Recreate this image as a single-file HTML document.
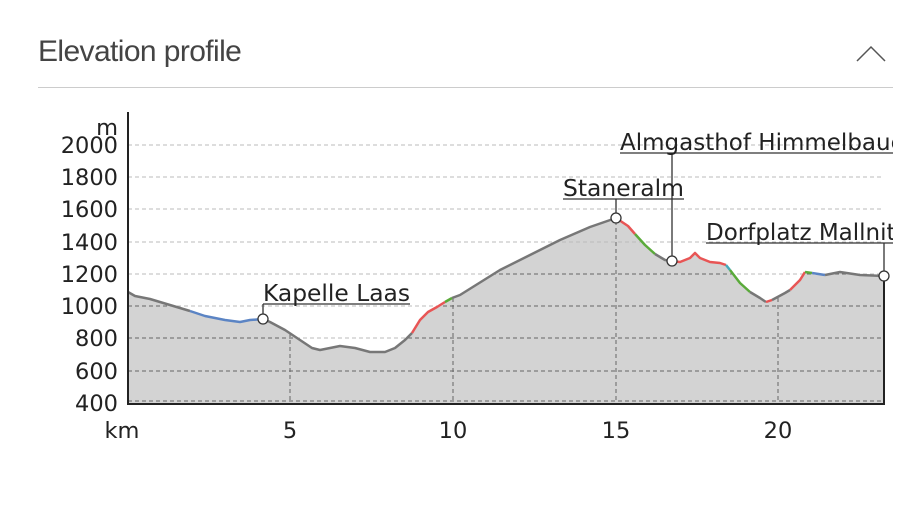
<!DOCTYPE html>
<html><head><meta charset="utf-8"><style>
body{margin:0;background:#fff;width:910px;height:526px;overflow:hidden;font-family:"Liberation Sans",sans-serif}
.t{position:absolute;left:38px;top:35px;font-size:30px;font-weight:300;color:#444;letter-spacing:-0.6px}
.hr{position:absolute;left:38px;top:87px;width:855px;height:1px;background:#ccc}
</style></head><body>
<div class="t">Elevation profile</div>
<div class="hr"></div>
<svg style="position:absolute;left:0;top:0" width="910" height="526">
<polyline points="857,61 871,47 885,61" fill="none" stroke="#555" stroke-width="1.5"/>
<defs>
<clipPath id="c"><path id="fp" d="M128,292 L135,296 L150,299 L170,305 L190,311 L205,316 L225,320 L240,322 L250,320 L263,319 L270,322 L285,330 L300,340 L312,348 L320,350 L330,348 L340,346 L355,348 L370,352 L385,352 L395,348 L405,340 L412,333 L420,320 L428,312 L437,307 L445,302 L452,298 L460,295 L500,270 L530,255 L560,240 L590,227 L616,218 L628,226 L635,234 L645,245 L655,254 L665,260 L672,261 L680,262 L690,258 L695,253 L700,258 L710,262 L720,263 L726,265 L730,270 L740,283 L750,292 L760,298 L768,302 L775,298 L785,293 L792,289 L800,280 L805,272 L815,275 L825,275 L840,272 L860,275 L884,276 L884,403 L128,403 Z"/></clipPath>
<clipPath id="tc"><rect x="0" y="0" width="893" height="526"/></clipPath>
</defs>
<use href="#fp" fill="#d3d3d3"/>
<g stroke="#bbb" stroke-dasharray="4,3" stroke-width="1">
<line x1="128" y1="145" x2="884" y2="145"/><line x1="128" y1="177" x2="884" y2="177"/><line x1="128" y1="209" x2="884" y2="209"/><line x1="128" y1="242" x2="884" y2="242"/><line x1="128" y1="274" x2="884" y2="274"/><line x1="128" y1="306" x2="884" y2="306"/><line x1="128" y1="338" x2="884" y2="338"/><line x1="128" y1="371" x2="884" y2="371"/>
</g>
<g stroke="#666" stroke-dasharray="4,3" stroke-width="1" clip-path="url(#c)">
<line x1="128" y1="274" x2="884" y2="274"/><line x1="128" y1="306" x2="884" y2="306"/><line x1="128" y1="338" x2="884" y2="338"/><line x1="128" y1="371" x2="884" y2="371"/><line x1="128" y1="401" x2="884" y2="401"/>
<line x1="290" y1="200" x2="290" y2="403"/><line x1="453" y1="200" x2="453" y2="403"/><line x1="616" y1="200" x2="616" y2="403"/><line x1="778" y1="200" x2="778" y2="403"/>
</g>
<g fill="none" stroke-width="2.5" stroke-linejoin="round">
<polyline stroke="#777" points="128,292 135,296 150,299 170,305 190,311"/>
<polyline stroke="#5b84c4" points="190,311 205,316 225,320 240,322 250,320 263,319"/>
<polyline stroke="#777" points="263,319 270,322 285,330 300,340 312,348 320,350 330,348 340,346 355,348 370,352 385,352 395,348 405,340 412,333"/>
<polyline stroke="#e85555" points="412,333 420,320 428,312 437,307 445,302"/>
<polyline stroke="#5aaa3a" points="445,302 452,298"/>
<polyline stroke="#777" points="452,298 460,295 500,270 530,255 560,240 590,227 616,218"/>
<polyline stroke="#e85555" points="616,218 628,226 635,234"/>
<polyline stroke="#5aaa3a" points="635,234 645,245 655,254"/>
<polyline stroke="#777" points="655,254 665,260 672,261"/>
<polyline stroke="#e85555" points="672,261 680,262 690,258 695,253 700,258 710,262 720,263 726,265"/>
<polyline stroke="#4ab" points="726,265 730,270"/>
<polyline stroke="#5aaa3a" points="730,270 740,283 750,292"/>
<polyline stroke="#777" points="750,292 760,298 766,302"/>
<polyline stroke="#e85555" points="766,302 772,300"/>
<polyline stroke="#777" points="772,300 785,293 790,290"/>
<polyline stroke="#e85555" points="790,290 800,280 805,272"/>
<polyline stroke="#5aaa3a" points="805,272 812,273"/>
<polyline stroke="#5b84c4" points="812,273 825,275"/>
<polyline stroke="#777" points="825,275 840,272 860,275 884,276"/>
</g>
<g stroke="#222" stroke-width="2"><line x1="128" y1="112" x2="128" y2="404"/><line x1="127" y1="404" x2="885" y2="404"/><line x1="884" y1="276" x2="884" y2="404"/></g>
<g stroke="#333" stroke-width="1.3">
<line x1="263" y1="304" x2="410" y2="304"/><line x1="263" y1="304" x2="263" y2="319"/>
<line x1="563" y1="199" x2="684" y2="199"/><line x1="616" y1="199" x2="616" y2="218"/>
<line x1="620" y1="153" x2="893" y2="153"/><line x1="672" y1="153" x2="672" y2="261"/>
<line x1="706" y1="243" x2="893" y2="243"/><line x1="884" y1="243" x2="884" y2="276"/>
</g>
<g fill="#fff" stroke="#333" stroke-width="1.3">
<circle cx="263" cy="319" r="5"/><circle cx="616" cy="218" r="5"/><circle cx="672" cy="261" r="5"/><circle cx="884" cy="276" r="5"/>
</g>
<g font-family="DejaVu Sans, sans-serif" font-size="23" fill="#222">
<text x="263" y="301" textLength="147" lengthAdjust="spacingAndGlyphs">Kapelle Laas</text>
<text x="563" y="196" textLength="121" lengthAdjust="spacingAndGlyphs">Staneralm</text>
<g clip-path="url(#tc)"><text x="620" y="150">Almgasthof Himmelbauer</text><text x="706" y="240">Dorfplatz Mallnitz</text></g>
</g>
<g font-family="DejaVu Sans, sans-serif" font-size="22.5" fill="#222" text-anchor="end">
<text x="118" y="135">m</text>
<text x="118" y="153">2000</text><text x="118" y="185">1800</text><text x="118" y="217">1600</text><text x="118" y="250">1400</text><text x="118" y="282">1200</text><text x="118" y="314">1000</text><text x="118" y="346">800</text><text x="118" y="379">600</text><text x="118" y="411">400</text>
</g>
<g font-family="DejaVu Sans, sans-serif" font-size="22.5" fill="#222" text-anchor="middle">
<text x="122" y="438">km</text><text x="290" y="438">5</text><text x="453" y="438">10</text><text x="616" y="438">15</text><text x="778" y="438">20</text>
</g>
</svg>
</body></html>
